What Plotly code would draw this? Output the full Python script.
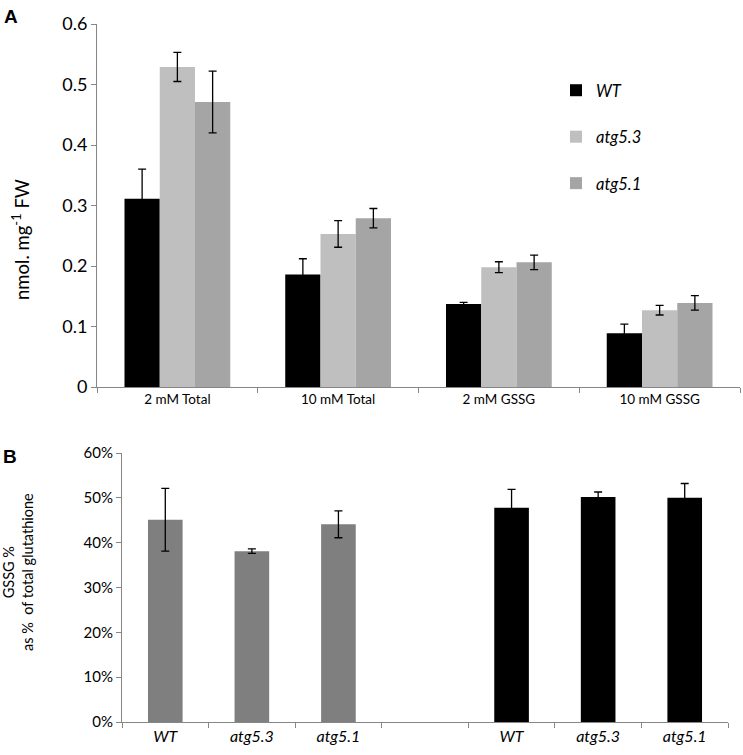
import plotly.graph_objects as go

W, H = 743, 755

# panel A data
conditions = ["2 mM Total", "10 mM Total", "2 mM GSSG", "10 mM GSSG"]
genotypes = ["WT", "atg5.3", "atg5.1"]
wt_vals = [0.311, 0.186, 0.137, 0.089]
wt_err = [0.049, 0.026, 0.003, 0.015]
atg53_vals = [0.529, 0.253, 0.198, 0.127]
atg53_err = [0.024, 0.022, 0.009, 0.008]
atg51_vals = [0.471, 0.279, 0.206, 0.139]
atg51_err = [0.051, 0.016, 0.012, 0.012]

# panel B data (gray = 2 mM, black = 10 mM)
b_labels = ["WT", "atg5.3", "atg5.1", "", "WT", "atg5.3", "atg5.1"]
b_vals = [0.451, 0.381, 0.441, None, 0.478, 0.502, 0.500]
b_err = [0.070, 0.005, 0.030, None, 0.041, 0.011, 0.032]
b_colors = ["#7f7f7f"] * 4 + ["#000000"] * 3

a_colors = ["#000000", "#bfbfbf", "#a5a5a5"]
font = "Lato, Open Sans, sans-serif"
axcol = "#868686"


def px(x):
    return x / W


def py(y):
    return 1 - y / H


fig = go.Figure()

for name, vals, err, col in zip(genotypes, [wt_vals, atg53_vals, atg51_vals],
                                [wt_err, atg53_err, atg51_err], a_colors):
    fig.add_trace(go.Bar(
        x=conditions, y=vals, name="<i>%s</i>" % name, legendgroup=name,
        marker=dict(color=col, line=dict(width=0)),
        error_y=dict(type="data", array=err, color="#000000", thickness=1.3, width=4),
        xaxis="x", yaxis="y",
    ))

b_keys = [str(i) for i in range(len(b_labels))]
fig.add_trace(go.Bar(
    x=b_keys, y=b_vals, width=0.4, showlegend=False,
    marker=dict(color=b_colors, line=dict(width=0)),
    error_y=dict(type="data", array=b_err, color="#000000", thickness=1.3, width=4),
    xaxis="x2", yaxis="y2",
))

common = dict(showline=True, linecolor=axcol, linewidth=1, ticks="outside",
              ticklen=5, tickcolor=axcol, showgrid=False, automargin=False)

fig.update_layout(
    width=W, height=H,
    margin=dict(l=0, r=0, t=0, b=0, autoexpand=False),
    paper_bgcolor="white", plot_bgcolor="white",
    font=dict(family=font, color="#000000"),
    barmode="group", bargap=0.342, bargroupgap=0,
    showlegend=True,
    legend=dict(x=px(556), y=py(73), xanchor="left", yanchor="top",
                font=dict(size=16.5), tracegroupgap=22,
                itemwidth=30, bgcolor="rgba(0,0,0,0)"),
    xaxis=dict(domain=[px(97), px(740)], anchor="y", type="category",
               tickson="boundaries", tickfont=dict(size=13.5), **common),
    yaxis=dict(domain=[py(387), py(24)], anchor="x", range=[0, 0.6], dtick=0.1,
               tickformat="~g", zeroline=False, tickfont=dict(size=18), **common),
    xaxis2=dict(domain=[px(122), px(728)], anchor="y2", type="category",
                tickvals=b_keys, ticktext=["<i>%s</i>" % s for s in b_labels],
                tickson="boundaries", tickfont=dict(size=16), **common),
    yaxis2=dict(domain=[py(722), py(453)], anchor="x2", range=[0, 0.6], dtick=0.1,
                tickformat=".0%", zeroline=False, tickfont=dict(size=15), **common),
    annotations=[
        dict(text="<b>A</b>", x=px(2), y=py(4), xref="paper", yref="paper",
             xanchor="left", yanchor="top", showarrow=False,
             font=dict(size=19, family="Liberation Sans")),
        dict(text="<b>B</b>", x=px(1), y=py(444), xref="paper", yref="paper",
             xanchor="left", yanchor="top", showarrow=False,
             font=dict(size=19, family="Liberation Sans")),
        dict(text="nmol. mg<sup>-1</sup> FW", textangle=-90, x=px(20), y=py(240),
             xref="paper", yref="paper", xanchor="center", yanchor="middle",
             showarrow=False, font=dict(size=18.5)),
        dict(text="GSSG %<br>as %  of total glutathione", textangle=-90, x=px(18), y=py(572),
             xref="paper", yref="paper", xanchor="center", yanchor="middle",
             showarrow=False, font=dict(size=14.5)),
    ],
)

# drop the default 8px body margin so the figure sits at the page corner
fig.write_html("out.html", config={"displayModeBar": False},
               post_script="document.body.style.margin='0';")
